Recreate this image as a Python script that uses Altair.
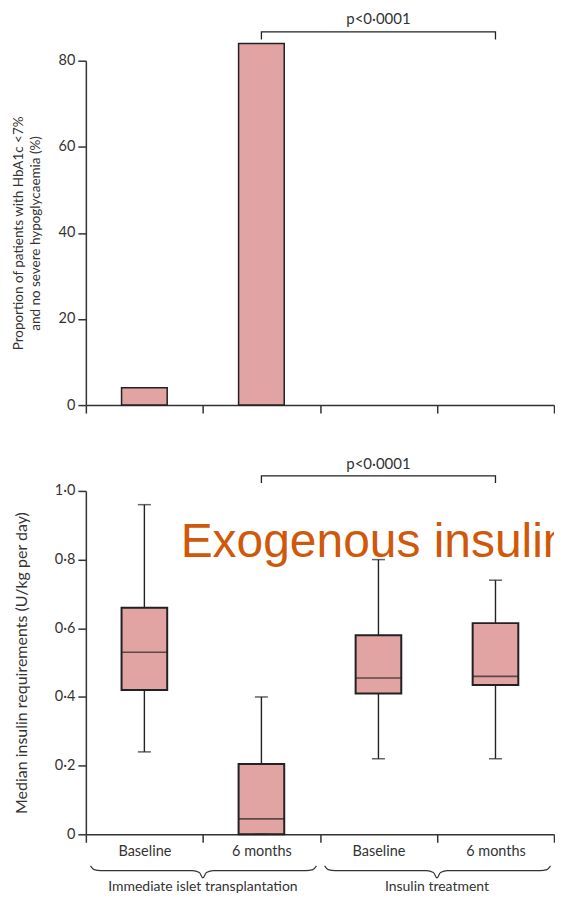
import altair as alt
import pandas as pd

# ---------------- data ----------------
groups = ["Immediate islet transplantation", "Insulin treatment"]
timepoints = ["Baseline", "6 months"]
keys = [f"{g}|{t}" for g in groups for t in timepoints]

proportion = [4, 84, 0, 0]

whisker_low = [0.24, 0.0, 0.22, 0.22]
q1 = [0.42, 0.0, 0.41, 0.435]
median = [0.53, 0.045, 0.455, 0.46]
q3 = [0.66, 0.205, 0.58, 0.615]
whisker_high = [0.96, 0.40, 0.80, 0.74]

p_text = "p<0·0001"
top_title = ["Proportion of patients with HbA1c <7%", "and no severe hypoglycaemia (%)"]
bottom_title = "Median insulin requirements (U/kg per day)"
overlay_text = "Exogenous insulin"

# ---------------- styles ----------------
PINK = "#E2A3A3"
DARK = "#222222"
AX = "#333333"
FONT = "Lato"
W = 469
H_TOP = 345
H_BOT = 344

bars_df = pd.DataFrame({"key": keys, "value": proportion})
box_df = pd.DataFrame({"key": keys, "lo": whisker_low, "q1": q1, "med": median,
                       "q3": q3, "hi": whisker_high})

xband = alt.Scale(domain=keys, paddingInner=0, paddingOuter=0)
xq = alt.Scale(domain=[0, 4], nice=False, zero=False)


def bracket(y_low, y_high, y_text):
    line = pd.DataFrame({"px": [1.5, 1.5, 3.5, 3.5],
                         "py": [y_low, y_high, y_high, y_low],
                         "o": [0, 1, 2, 3]})
    txt = pd.DataFrame({"px": [2.5], "py": [y_text], "t": [p_text]})
    l = alt.Chart(line).mark_line(color=DARK, strokeWidth=1.3).encode(
        x=alt.X("px:Q", scale=xq, axis=None),
        y=alt.Y("py:Q"),
        order="o:Q")
    t = alt.Chart(txt).mark_text(fontSize=15, color=AX, baseline="middle", font=FONT).encode(
        x=alt.X("px:Q", scale=xq, axis=None),
        y=alt.Y("py:Q"),
        text="t:N")
    return l, t


# ---------------- top chart ----------------
top_y = alt.Y("value:Q",
              scale=alt.Scale(domain=[0, 80], nice=False),
              axis=alt.Axis(values=[0, 20, 40, 60, 80], title=top_title,
                            titlePadding=16, titleLineHeight=17, titleFontSize=13.5))
top_bars = alt.Chart(bars_df).transform_filter("datum.value > 0").mark_bar(
    width=alt.RelativeBandSize(0.39), fill=PINK, stroke=DARK, strokeWidth=1.5
).encode(
    x=alt.X("key:N", scale=xband, sort=keys,
            axis=alt.Axis(labels=False, title=None, tickBand="extent")),
    y=top_y,
)
tl, tt = bracket(84.9, 86.7, 89.6)
top = alt.layer(top_bars, tl, tt).resolve_scale(x="independent").properties(
    width=W, height=H_TOP)

# ---------------- bottom chart ----------------
bot_yscale = alt.Scale(domain=[0, 1], nice=False)
bx = alt.X("key:N", scale=xband, sort=keys,
           axis=alt.Axis(title=None, tickBand="extent", labelAngle=0,
                         labelExpr="split(datum.label, '|')[1]", labelPadding=2))
yaxis = alt.Axis(values=[0, 0.2, 0.4, 0.6, 0.8, 1.0], title=bottom_title,
                 labelExpr="datum.value == 0 ? '0' : replace(format(datum.value, '.1f'), '.', '·')",
                 titlePadding=25, titleFontSize=16)

base = alt.Chart(box_df)
whisk = base.mark_rule(color=DARK, strokeWidth=1.4).encode(
    x=bx, y=alt.Y("lo:Q", scale=bot_yscale, axis=yaxis), y2="hi:Q")
box = base.mark_bar(width=alt.RelativeBandSize(0.39), fill=PINK, stroke=DARK,
                    strokeWidth=2).encode(x=bx, y="q1:Q", y2="q3:Q")
med = base.mark_tick(size=W / 4 * 0.39, thickness=1.6, color=DARK).encode(x=bx, y="med:Q")
cap_lo = base.mark_tick(size=13, thickness=1.5, color=DARK).encode(x=bx, y="lo:Q")
cap_hi = base.mark_tick(size=13, thickness=1.5, color=DARK).encode(x=bx, y="hi:Q")
boxes = alt.layer(whisk, box, med, cap_lo, cap_hi)

bl, bt = bracket(1.023, 1.0436, 1.079)

# braces under the axis, built from each group's span
brace_rows = []
label_rows = []
for gi, g in enumerate(groups):
    a, b, mid = 2 * gi + 0.04, 2 * gi + 1.97, 2 * gi + 1.0
    pts = [(a, -0.092), (a + 0.03, -0.103), (a + 0.09, -0.106),
           (mid - 0.09, -0.106), (mid - 0.03, -0.111), (mid, -0.127),
           (mid + 0.03, -0.111), (mid + 0.09, -0.106),
           (b - 0.09, -0.106), (b - 0.03, -0.103), (b, -0.092)]
    for i, (px, py) in enumerate(pts):
        brace_rows.append({"g": g, "px": px, "py": py, "o": i})
    label_rows.append({"g": g, "px": mid, "py": -0.153})
brace_df = pd.DataFrame(brace_rows)
glabel_df = pd.DataFrame(label_rows)

annot = alt.layer(
    bl, bt,
    alt.Chart(brace_df).mark_line(color=AX, strokeWidth=1.2, interpolate="monotone").encode(
        x=alt.X("px:Q", scale=xq, axis=None), y="py:Q", detail="g:N", order="o:Q"),
    alt.Chart(glabel_df).mark_text(fontSize=14, color=AX, baseline="middle", font=FONT).encode(
        x=alt.X("px:Q", scale=xq, axis=None), y="py:Q", text="g:N"),
    alt.Chart(pd.DataFrame({"px": [0.81], "py": [0.808], "t": [overlay_text]})).mark_text(
        fontSize=48, color="#D0580A", align="left", baseline="alphabetic",
        font="Liberation Sans", clip=True).encode(
        x=alt.X("px:Q", scale=xq, axis=None), y="py:Q", text="t:N"),
)

bottom = alt.layer(boxes, annot).resolve_scale(x="independent").properties(
    width=W, height=H_BOT)

chart = alt.vconcat(top, bottom, spacing=86, bounds="flush").properties(
    padding={"left": 3, "top": 3, "right": 0, "bottom": 0}
).configure_view(stroke=None).configure_axis(
    grid=False, domainColor=AX, domainWidth=1.5, tickColor=AX, tickWidth=1.5, tickSize=8,
    labelFont=FONT, labelFontSize=14.5, labelColor=AX, labelPadding=3,
    titleFont=FONT, titleFontSize=13, titleColor=AX, titleFontWeight="normal",
).configure_text(font=FONT)

chart.save("out.html", embed_options={"renderer": "svg", "actions": False})
